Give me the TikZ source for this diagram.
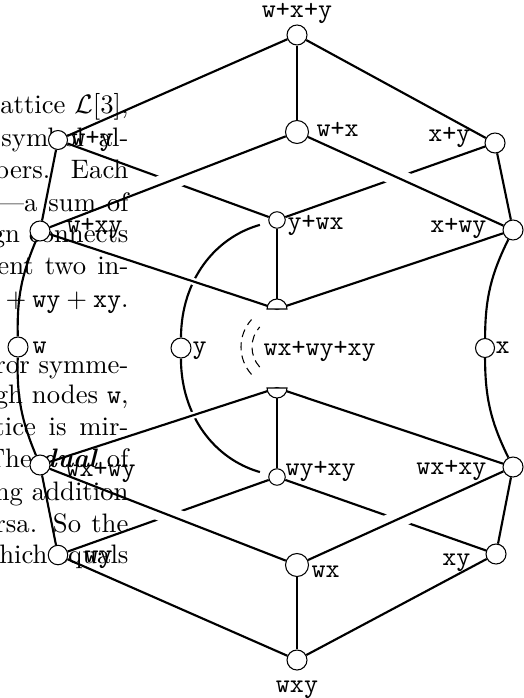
\documentclass[tikz,border=0pt]{standalone}
\usepackage{amsmath}
\usepackage{tikz}
\newdimen\pxu \pxu=0.3745pt
\pgfdeclarelayer{edges}
\pgfdeclarelayer{words}
\pgfsetlayers{edges,words,main}
\tikzset{
  vtx/.style={circle, draw, line width=0.4pt, fill=white, inner sep=0pt, minimum size=20\pxu},
  vtxbig/.style={vtx, minimum size=23\pxu},
  vtxsmall/.style={vtx, minimum size=16.5\pxu},
  lbl/.style={font=\ttfamily, inner sep=0pt},
  lnk/.style={line width=0.8pt},
  infront/.style={preaction={draw=white, line width=#1, shorten <=28\pxu, shorten >=28\pxu}},
  foldarc/.style={line width=0.4pt, dash pattern=on 3pt off 2pt},
  bodytxt/.style={anchor=base east, inner sep=0pt}
}

\begin{document}
\begin{tikzpicture}[x=0.3745pt, y=-0.3745pt]
  \useasboundingbox (0,0) rectangle (524,698);

  % text of the page behind the lattice
  \begin{pgfonlayer}{words}
    \clip (0,0) rectangle (524,698);
    \foreach \yy/\txt in {114/{attice $\mathcal{L}[3]$,},
        147/{\makebox[127\pxu][s]{symbol al-}},
        179/{\makebox[134\pxu][s]{bers. Each}},
        212/{\makebox[131\pxu][s]{---a sum of}},
        242/{gn connects},
        275/{\makebox[131\pxu][s]{ent two in-}},
        308/{$\mathtt{x}+\mathtt{wy}+\mathtt{xy}$.},
        373/{ror symme-},
        403/{gh nodes \texttt{w},},
        435/{\makebox[134\pxu][s]{tice is mir-}},
        467/{The \textbf{\textit{dual}} of},
        500/{ng addition},
        532/{\makebox[133\pxu][s]{rsa. So the}},
        563/{hich equals}}
      \node[bodytxt] (line\yy) at (129,\yy) {\txt};
  \end{pgfonlayer}

  % elements
  \node[vtx] (wpxpy) at (297,35) {};
  \node[vtxbig] (wpx) at (297,132) {};
  \node[vtx] (xpy) at (495,143) {};
  \node[vtx, minimum size=19\pxu] (wpy) at (58,140) {};
  \node[vtx] (wpxy) at (40,231) {};
  \node[vtxsmall] (ypwx) at (277,220) {};
  \node[vtx] (xpwy) at (513,230) {};
  \coordinate (medtop) at (277,309);
  \coordinate (medbot) at (277,388);
  \coordinate (medc) at (282,347);
  \node[vtx] (w) at (18,347) {};
  \node[vtx] (y) at (181,348) {};
  \node[vtx, minimum size=19\pxu] (x) at (485,348) {};
  \node[vtx] (wxpwy) at (40,465) {};
  \node[vtx] (wxpxy) at (513,467) {};
  \node[vtxsmall] (wypxy) at (277,477) {};
  \node[vtxbig] (wx) at (297,565) {};
  \node[vtx, minimum size=19.5\pxu] (wy) at (58,555) {};
  \node[vtx] (xy) at (496,554) {};
  \node[vtx] (wxy) at (297,660) {};

  % labels
  \node[lbl, anchor=base] (wpxpy-l) at (297,18) {w+x+y};
  \node[lbl, anchor=base west] (wpx-l) at (316,137) {w+x};
  \node[lbl, anchor=base east] (xpy-l) at (471,142) {x+y};
  \node[lbl, anchor=base west] (wpy-l) at (71,146) {w+y};
  \node[lbl, anchor=base west] (wpxy-l) at (66,233) {w+xy};
  \node[lbl, anchor=base west] (ypwx-l) at (287,230) {y+wx};
  \node[lbl, anchor=base east] (xpwy-l) at (487,233) {x+wy};
  \node[lbl, anchor=base west] (w-l) at (32,353) {w};
  \node[lbl, anchor=base west] (y-l) at (192,353) {y};
  \node[lbl, anchor=base west] (x-l) at (495,353) {x};
  \node[lbl, anchor=base west] (med-l) at (263,355) {wx+wy+xy};
  \node[lbl, anchor=base west] (wxpwy-l) at (65,476) {wx+wy};
  \node[lbl, anchor=base west] (wypxy-l) at (285,475) {wy+xy};
  \node[lbl, anchor=base east] (wxpxy-l) at (487,474) {wx+xy};
  \node[lbl, anchor=base west] (wy-l) at (84,562) {wy};
  \node[lbl, anchor=base west] (wx-l) at (311,577) {wx};
  \node[lbl, anchor=base east] (xy-l) at (471,565) {xy};
  \node[lbl, anchor=base] (wxy-l) at (297,692) {wxy};

  \begin{pgfonlayer}{edges}
    % edges at the back
    \draw[lnk] (wpxpy) -- (wpx);
    \draw[lnk] (wpxpy) -- (xpy);
    \draw[lnk] (wpxpy) -- (wpy);
    \draw[lnk] (wpy) -- (ypwx);
    \draw[lnk] (xpy) -- (ypwx);
    \draw[lnk] (wpy) -- (wpxy);
    \draw[lnk] (xpy) -- (xpwy);
    \draw[lnk, shorten <=9\pxu] (ypwx) to[bend right=37] (y);
    \draw[lnk, shorten >=9\pxu] (y) to[bend right=37] (wypxy);
    \draw[lnk] (ypwx) -- (medtop);
    \draw[lnk] (xpwy) -- (medtop);
    \draw[lnk] (wpxy) to[bend right=12] (w);
    \draw[lnk] (w) to[bend right=12] (wxpwy);
    \draw[lnk] (xpwy) to[bend right=13] (x);
    \draw[lnk] (x) to[bend right=13] (wxpxy);
    \draw[lnk] (medbot) -- (wypxy);
    \draw[lnk] (medbot) -- (wxpxy);
    \draw[lnk] (wxpwy) -- (wy);
    \draw[lnk] (wxpxy) -- (xy);
    \draw[lnk] (wypxy) -- (wy);
    \draw[lnk] (wypxy) -- (xy);
    \draw[lnk] (wx) -- (wxy);
    \draw[lnk] (wy) -- (wxy);
    \draw[lnk] (xy) -- (wxy);
    % edges in front
    \draw[lnk, infront=18\pxu] (wpx) -- (wpxy);
    \draw[lnk, infront=18\pxu] (wpx) -- (xpwy);
    \draw[lnk, infront=7\pxu] (wpxy) -- (medtop);
    \draw[lnk, infront=7\pxu] (medbot) -- (wxpwy);
    \draw[lnk, infront=18\pxu] (wxpwy) -- (wx);
    \draw[lnk, infront=18\pxu] (wxpxy) -- (wx);
  \end{pgfonlayer}

  % the median, split in two halves
  \filldraw[fill=white, line width=0.4pt] (medtop) ++(-10,0) arc[start angle=180, end angle=360, radius=10] -- cycle;
  \filldraw[fill=white, line width=0.4pt] (medbot) ++(-10,0) arc[start angle=180, end angle=0, radius=10] -- cycle;
  \draw[foldarc] (medc) ++(138:41) arc[start angle=138, end angle=222, radius=41];
  \draw[foldarc] (medc) ++(138:30) arc[start angle=138, end angle=222, radius=30];
\end{tikzpicture}
\end{document}
